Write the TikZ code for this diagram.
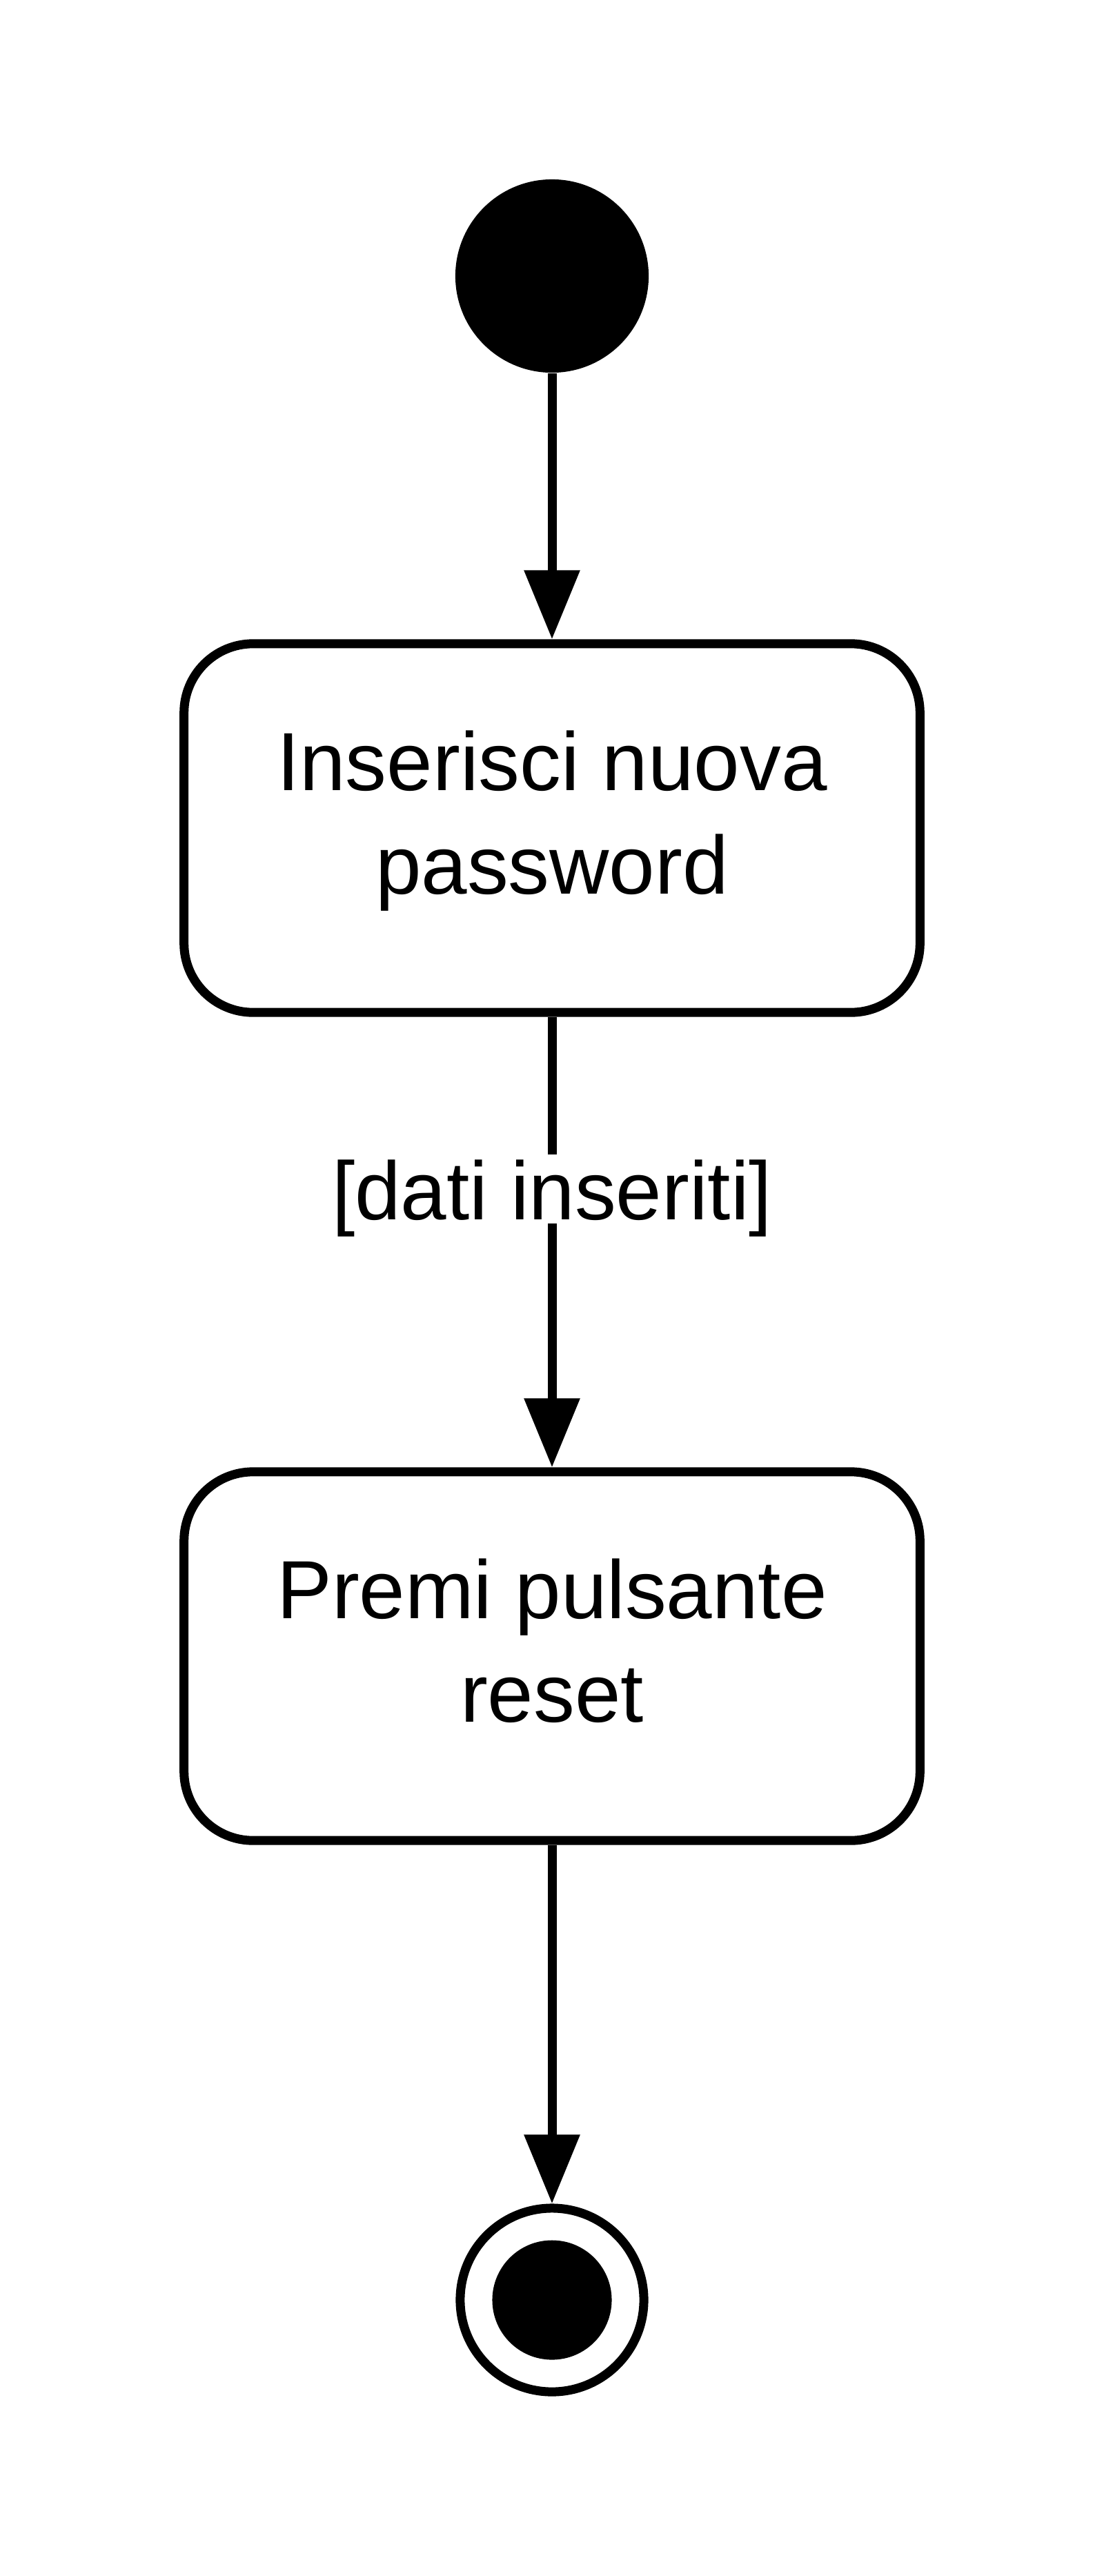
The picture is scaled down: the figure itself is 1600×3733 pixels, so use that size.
\documentclass[tikz,border=0pt]{standalone}
\usepackage{fontspec}
\setmainfont{Liberation Sans}
\usetikzlibrary{arrows.meta}

\newcommand{\boxfont}{\fontsize{34pt}{41.8pt}\selectfont}
\newcommand{\actstrut}{\rule[-0.53cm]{0pt}{1.47cm}}

\tikzset{
	flow/.style={-{Triangle[length=1cm,width=0.78cm]}, line width=0.13cm},
	activity/.style={draw, line width=0.13cm, rounded corners=1cm, minimum width=10.66cm,
		minimum height=5.34cm, inner sep=0, align=center, font=\boxfont},
	guard/.style={fill=white, inner sep=0, text height=0.94cm, text depth=0.06cm, font=\boxfont},
}

\begin{document}
\begin{tikzpicture}[x=0.01cm,y=-0.01cm]
	\useasboundingbox (0,0) rectangle (1600,3733);

	\node (start) [circle, fill=black, minimum size=2.8cm, inner sep=0] at (800,400) {};
	\node (enter) [activity] at (800,1200) {\actstrut Inserisci nuova\\password\actstrut};
	\node (reset) [activity] at (800,2400) {\actstrut Premi pulsante\\reset\actstrut};
	\node (end) [circle, draw, line width=0.13cm, minimum size=2.66cm, inner sep=0] at (800,3333) {};
	\fill (end.center) circle (0.865cm);

	\draw[flow] (start) -- (enter);
	\draw[flow] (enter) -- node[guard, pos=0.45, anchor=base] {[dati inseriti]} (reset);
	\draw[flow] (reset) -- (end);
\end{tikzpicture}
\end{document}
